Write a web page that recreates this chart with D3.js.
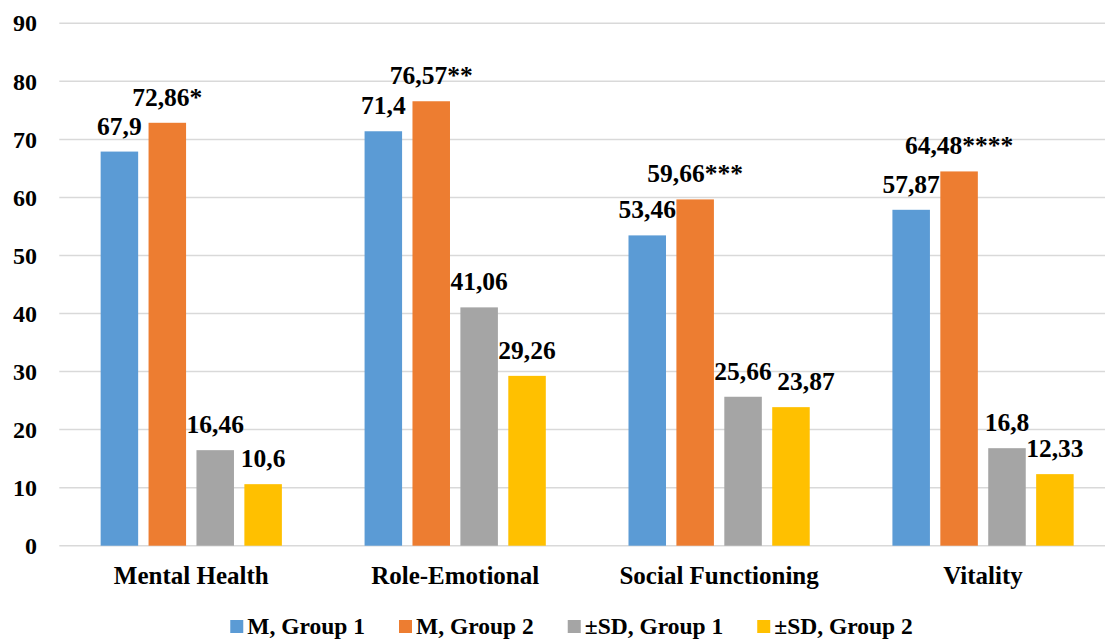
<!DOCTYPE html>
<html>
<head>
<meta charset="utf-8">
<script src="https://cdn.jsdelivr.net/npm/d3@7"></script>
<style>
  body { margin: 0; background: #fff; }
  text { font-family: "Liberation Serif", "Times New Roman", serif; font-weight: bold; fill: #000; }
</style>
</head>
<body>
<div id="chart"></div>
<script>
var categories = ["Mental Health", "Role-Emotional", "Social Functioning", "Vitality"];
var seriesNames = ["M, Group 1", "M, Group 2", "\u00b1SD, Group 1", "\u00b1SD, Group 2"];
var seriesColors = ["#5B9BD5", "#ED7D31", "#A5A5A5", "#FFC000"];
var mGroup1 = [67.9, 71.4, 53.46, 57.87];
var mGroup2 = [72.86, 76.57, 59.66, 64.48];
var sdGroup1 = [16.46, 41.06, 25.66, 16.8];
var sdGroup2 = [10.6, 29.26, 23.87, 12.33];
// label text as printed on the chart (comma decimals, significance stars)
var mGroup1Labels = ["67,9", "71,4", "53,46", "57,87"];
var mGroup2Labels = ["72,86*", "76,57**", "59,66***", "64,48****"];
var sdGroup1Labels = ["16,46", "41,06", "25,66", "16,8"];
var sdGroup2Labels = ["10,6", "29,26", "23,87", "12,33"];
var yTicks = [0, 10, 20, 30, 40, 50, 60, 70, 80, 90];

var width = 1105, height = 639;
var svg = d3.select("#chart").append("svg")
  .attr("width", width)
  .attr("height", height);

var allValues = [mGroup1, mGroup2, sdGroup1, sdGroup2];
var allLabels = [mGroup1Labels, mGroup2Labels, sdGroup1Labels, sdGroup2Labels];
// one label was pushed aside in the original so it doesn't collide
var labelNudge = { "23,87": 15 };

var x0 = d3.scaleBand().domain(categories).range([59.3, 1115]).padding(0);
var x1 = d3.scaleBand().domain(d3.range(4)).range([0, x0.bandwidth()])
  .paddingInner(0.217).paddingOuter(0.863);
var y = d3.scaleLinear().domain([0, 90]).range([545.7, 23.3]);

// gridlines
svg.append("g").selectAll("line")
  .data(yTicks)
  .enter().append("line")
  .attr("x1", 59.3).attr("x2", width)
  .attr("y1", function(d) { return y(d); })
  .attr("y2", function(d) { return y(d); })
  .attr("stroke", "#d9d9d9")
  .attr("stroke-width", 1.5);

// y tick labels
svg.append("g").selectAll("text")
  .data(yTicks)
  .enter().append("text")
  .attr("x", 37)
  .attr("y", function(d) { return y(d); })
  .attr("dy", "0.34em")
  .attr("text-anchor", "end")
  .style("font-size", "24px")
  .text(function(d) { return d; });

// bars
var groups = svg.append("g").selectAll("g")
  .data(categories)
  .enter().append("g")
  .attr("transform", function(d) { return "translate(" + x0(d) + ",0)"; });

function rows(d, i) {
  return allValues.map(function(s, k) { return { k: k, v: s[i], label: allLabels[k][i] }; });
}

groups.selectAll("rect")
  .data(rows)
  .enter().append("rect")
  .attr("x", function(d) { return x1(d.k); })
  .attr("width", x1.bandwidth())
  .attr("y", function(d) { return y(d.v); })
  .attr("height", function(d) { return y(0) - y(d.v); })
  .attr("fill", function(d) { return seriesColors[d.k]; });

groups.selectAll("text.val")
  .data(rows)
  .enter().append("text")
  .attr("class", "val")
  .attr("x", function(d) { return x1(d.k) + x1.bandwidth() / 2 + (labelNudge[d.label] || 0); })
  .attr("y", function(d) { return y(d.v) - 17; })
  .attr("text-anchor", "middle")
  .style("font-size", "25.5px")
  .text(function(d) { return d.label; });

// category labels
svg.append("g").selectAll("text")
  .data(categories)
  .enter().append("text")
  .attr("x", function(d) { return x0(d) + x0.bandwidth() / 2; })
  .attr("y", 584)
  .attr("text-anchor", "middle")
  .style("font-size", "25px")
  .text(function(d) { return d; });

// legend
var legend = svg.append("g");
var lx = 0;
seriesNames.forEach(function(name, i) {
  var item = legend.append("g").attr("transform", "translate(" + lx + ",0)");
  item.append("rect")
    .attr("x", 0).attr("y", 620)
    .attr("width", 13).attr("height", 13)
    .attr("fill", seriesColors[i]);
  var t = item.append("text")
    .attr("x", 17).attr("y", 634)
    .style("font-size", "23.5px")
    .text(name);
  lx += 17 + t.node().getComputedTextLength() + 34;
});
var legendWidth = lx - 34;
legend.attr("transform", "translate(" + (571.5 - legendWidth / 2) + ",0)");
</script>
</body>
</html>
